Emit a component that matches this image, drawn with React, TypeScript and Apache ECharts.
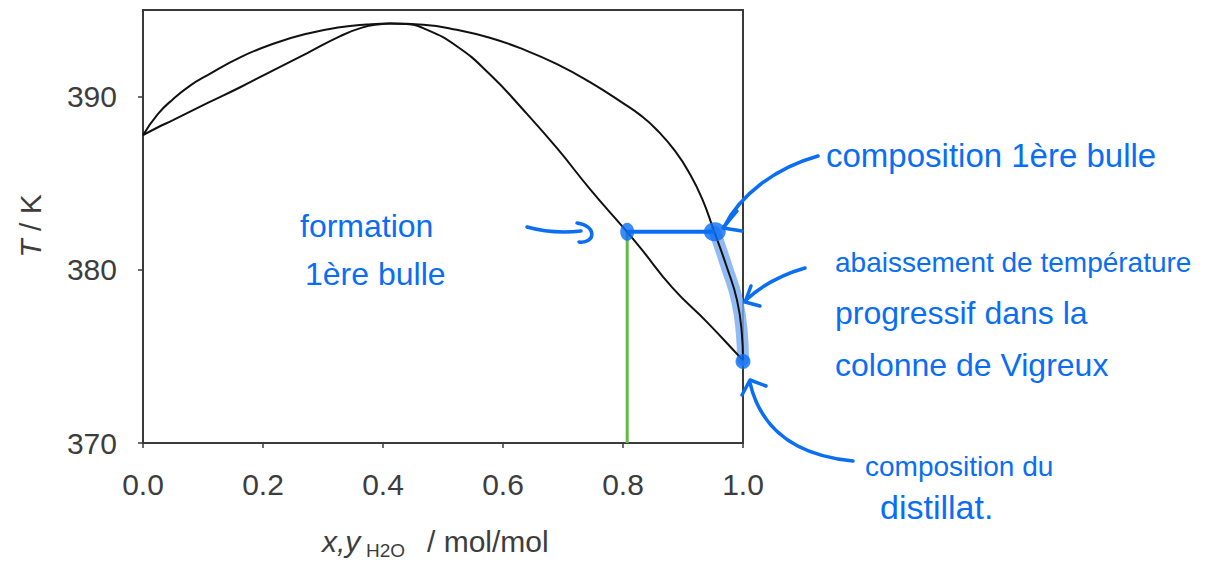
import React, { useEffect, useRef } from "react";
import * as echarts from "echarts";

// Dew (vapour) curve
const dewX = [0, 0.025, 0.05, 0.078, 0.107, 0.162, 0.217, 0.273, 0.328, 0.373, 0.412, 0.467, 0.523, 0.578, 0.633, 0.69, 0.745, 0.8, 0.83, 0.857, 0.887, 0.912, 0.932, 0.95, 0.973, 0.99, 0.998, 1.0];
const dewT = [387.77, 389.0, 389.85, 390.62, 391.23, 392.27, 393.05, 393.63, 394.0, 394.16, 394.22, 394.15, 393.86, 393.4, 392.74, 391.87, 390.83, 389.62, 388.9, 388.06, 386.85, 385.5, 384.1, 382.4, 380.16, 378.25, 376.35, 374.79];
// Bubble (liquid) curve
const bubbleX = [0, 0.025, 0.05, 0.107, 0.162, 0.217, 0.273, 0.328, 0.365, 0.395, 0.412, 0.437, 0.467, 0.523, 0.578, 0.633, 0.69, 0.745, 0.8, 0.828, 0.883, 0.94, 0.995, 1.0];
const bubbleT = [387.77, 388.23, 388.64, 389.62, 390.54, 391.52, 392.5, 393.48, 393.98, 394.18, 394.22, 394.19, 393.95, 392.91, 391.29, 389.27, 387.02, 384.66, 382.46, 381.31, 378.94, 376.98, 374.96, 374.79];

// Annotations
const tieX = [0.807, 0.953];
const tieT = 382.2;
const greenX = 0.807;
const bandX = [0.953, 0.973, 0.99, 0.998, 1.0];
const bandT = [382.2, 380.16, 378.25, 376.35, 374.79];
const dotX = [0.807, 0.953, 1.0];
const dotT = [382.2, 382.2, 374.7];
const dotSizes = [[14, 18], [22, 19], [15, 15]];

const yTicks = [370, 380, 390];

const BLUE = "#0a6ef5";
const AXIS = "#3a3a3a";
const FONT = "Liberation Sans";

export default function App() {
  const ref = useRef<HTMLDivElement>(null);
  useEffect(() => {
    if (!ref.current) return;
    const chart = echarts.init(ref.current, null, { renderer: "svg" });
    const stroke = { stroke: BLUE, lineWidth: 3.5, fill: null, lineCap: "round", lineJoin: "round" };
    const hand = (text: string, x: number, y: number, size: number) => ({
      type: "text",
      x,
      y,
      style: { text, fontSize: size, fontFamily: FONT, fill: BLUE, align: "left", verticalAlign: "middle" },
      z: 100,
    });
    chart.setOption({
      animation: false,
      grid: { left: 143, top: 10, width: 600, height: 433, show: true, borderColor: AXIS, borderWidth: 2 },
      xAxis: {
        type: "value",
        min: 0,
        max: 1,
        interval: 0.2,
        axisLine: { lineStyle: { color: AXIS, width: 2 } },
        axisTick: { length: 5, lineStyle: { color: AXIS, width: 1.5 } },
        axisLabel: { margin: 26, fontSize: 30, fontFamily: FONT, color: "#3d3d3d", formatter: (v: number) => v.toFixed(1) },
        splitLine: { show: false },
      },
      yAxis: {
        type: "value",
        min: 370,
        max: 395,
        interval: 10,
        axisLine: { show: true, lineStyle: { color: AXIS, width: 2 } },
        axisTick: { show: true, length: 5, customValues: yTicks, lineStyle: { color: AXIS, width: 1.5 } },
        axisLabel: { margin: 26, fontSize: 30, fontFamily: FONT, color: "#3d3d3d", customValues: yTicks },
        splitLine: { show: false },
      },
      series: [
        {
          type: "line",
          data: bandX.map((x, i) => [x, bandT[i]]),
          showSymbol: false,
          smooth: 0.5,
          clip: false,
          lineStyle: { color: "rgba(120,170,240,0.8)", width: 12, cap: "round" },
          z: 1,
        },
        {
          type: "line",
          data: dewX.map((x, i) => [x, dewT[i]]),
          showSymbol: false,
          smooth: 0.5,
          clip: false,
          lineStyle: { color: "#111", width: 2 },
          z: 3,
        },
        {
          type: "line",
          data: bubbleX.map((x, i) => [x, bubbleT[i]]),
          showSymbol: false,
          smooth: 0.5,
          clip: false,
          lineStyle: { color: "#111", width: 2 },
          z: 3,
        },
        {
          type: "line",
          data: [[greenX, 370], [greenX, tieT]],
          showSymbol: false,
          lineStyle: { color: "#63b946", width: 3 },
          z: 2,
        },
        {
          type: "line",
          data: tieX.map((x) => [x, tieT]),
          showSymbol: false,
          lineStyle: { color: BLUE, width: 4 },
          z: 5,
        },
        {
          type: "scatter",
          data: dotX.map((x, i) => ({ value: [x, dotT[i]], symbolSize: dotSizes[i] })),
          clip: false,
          itemStyle: { color: BLUE },
          z: 6,
        },
      ],
      graphic: [
        // axis titles
        {
          type: "text",
          x: 30,
          y: 226,
          rotation: Math.PI / 2,
          style: {
            text: "{i|T} / K",
            fontSize: 30,
            fontFamily: FONT,
            fill: "#3d3d3d",
            align: "center",
            verticalAlign: "middle",
            rich: { i: { fontStyle: "italic", fontSize: 30, fontFamily: FONT, fill: "#3d3d3d" } },
          },
        },
        { type: "text", x: 322, y: 541, style: { text: "x,y", fontSize: 30, fontStyle: "italic", fontFamily: FONT, fill: "#3d3d3d", align: "left", verticalAlign: "middle" } },
        { type: "text", x: 366, y: 550, style: { text: "H2O", fontSize: 19, fontFamily: FONT, fill: "#3d3d3d", align: "left", verticalAlign: "middle" } },
        { type: "text", x: 427, y: 541, style: { text: "/ mol/mol", fontSize: 30, fontFamily: FONT, fill: "#3d3d3d", align: "left", verticalAlign: "middle" } },
        // handwritten notes
        hand("formation", 300, 226, 32),
        hand("1ère bulle", 305, 274, 32),
        hand("composition 1ère bulle", 826, 155, 33),
        hand("abaissement de température", 835, 262, 28),
        hand("progressif dans la", 835, 313, 32),
        hand("colonne de Vigreux", 835, 365, 32),
        hand("composition du", 865, 466, 28),
        hand("distillat.", 880, 507, 34),
        // arrows
        { type: "bezierCurve", shape: { x1: 527, y1: 227, cpx1: 552, cpy1: 234, x2: 581, y2: 231 }, style: stroke, z: 100 },
        { type: "bezierCurve", shape: { x1: 577, y1: 223, cpx1: 598, cpy1: 226, cpx2: 595, cpy2: 244, x2: 579, y2: 242 }, style: stroke, z: 100 },
        { type: "bezierCurve", shape: { x1: 818, y1: 156, cpx1: 775, cpy1: 168, cpx2: 740, cpy2: 195, x2: 724, y2: 227 }, style: stroke, z: 100 },
        { type: "polyline", shape: { points: [[737, 211], [723, 228], [742, 231]] }, style: stroke, z: 100 },
        { type: "bezierCurve", shape: { x1: 805, y1: 268, cpx1: 770, cpy1: 278, x2: 746, y2: 300 }, style: stroke, z: 100 },
        { type: "polyline", shape: { points: [[751, 286], [745, 302], [760, 306]] }, style: stroke, z: 100 },
        { type: "bezierCurve", shape: { x1: 853, y1: 461, cpx1: 790, cpy1: 455, cpx2: 760, cpy2: 425, x2: 750, y2: 383 }, style: stroke, z: 100 },
        { type: "polyline", shape: { points: [[742, 395], [750, 380], [766, 386]] }, style: stroke, z: 100 },
      ],
    });
    return () => chart.dispose();
  }, []);
  return <div ref={ref} style={{ position: "absolute", left: 0, top: 0, width: 1209, height: 563, background: "#fff" }} />;
}
